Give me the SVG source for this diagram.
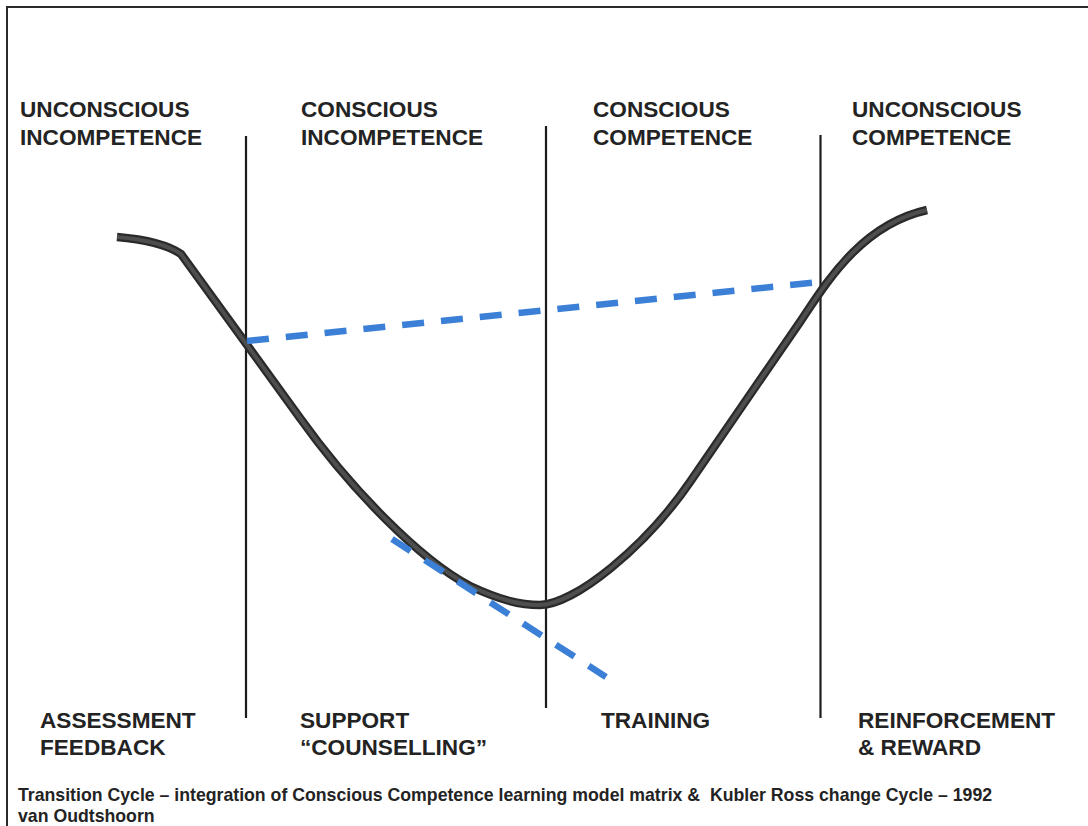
<svg xmlns="http://www.w3.org/2000/svg" xmlns:xlink="http://www.w3.org/1999/xlink" width="1088" height="826" viewBox="0 0 1088 826">
<style>
.lbl{font-family:"Liberation Sans",Arial,sans-serif;font-weight:bold;font-size:22.6px;fill:#232323}
.cap{font-family:"Liberation Sans",Arial,sans-serif;font-weight:bold;font-size:17.7px;fill:#232323}
.divider{stroke:#1c1c1c;stroke-width:2.2;fill:none}
.dash{stroke:#3b80d6;stroke-width:6.5;stroke-dasharray:22 17;fill:none}
.curveOut{stroke:#2a2a2a;stroke-width:8.5;fill:none;stroke-linejoin:round}
.curveIn{stroke:#4e4e4e;stroke-width:4;fill:none;stroke-linejoin:round}
</style>
<defs>
<path id="curve" d="M117,237 C140,239 165,243 181,254 L300,418 C350,488 420,560 470,586 C500,600 520,605 540,605 C575,604 645,547.5 690,482 L800,322 C825,285 860,225 927,210"/>
</defs>
<rect x="0" y="0" width="1088" height="826" fill="#ffffff"/>
<g id="frame">
<path d="M7,826 L7,7 L1088,7" stroke="#2a2a2a" stroke-width="2" fill="none"/>
</g>
<g id="connectors">
<line class="divider" x1="246" y1="136" x2="246" y2="718"/>
<line class="divider" x1="546" y1="126" x2="546" y2="708"/>
<line class="divider" x1="820.5" y1="135" x2="820.5" y2="718"/>
<use xlink:href="#curve" class="curveOut"/>
<use xlink:href="#curve" class="curveIn"/>
<line class="dash" x1="247" y1="341" x2="820" y2="282"/>
<line class="dash" x1="392" y1="539" x2="606" y2="677"/>
</g>
<g id="node-unconscious-incompetence">
<text class="lbl" x="20" y="117">UNCONSCIOUS</text>
<text class="lbl" x="20" y="145">INCOMPETENCE</text>
</g>
<g id="node-conscious-incompetence">
<text class="lbl" x="301" y="117">CONSCIOUS</text>
<text class="lbl" x="301" y="145">INCOMPETENCE</text>
</g>
<g id="node-conscious-competence">
<text class="lbl" x="593" y="117">CONSCIOUS</text>
<text class="lbl" x="593" y="145">COMPETENCE</text>
</g>
<g id="node-unconscious-competence">
<text class="lbl" x="852" y="117">UNCONSCIOUS</text>
<text class="lbl" x="852" y="145">COMPETENCE</text>
</g>
<g id="node-assessment">
<text class="lbl" x="40" y="728">ASSESSMENT</text>
<text class="lbl" x="40" y="755">FEEDBACK</text>
</g>
<g id="node-support">
<text class="lbl" x="300" y="728">SUPPORT</text>
<text class="lbl" x="300" y="755">“COUNSELLING”</text>
</g>
<g id="node-training">
<text class="lbl" x="601" y="728">TRAINING</text>
</g>
<g id="node-reinforcement">
<text class="lbl" x="858" y="728">REINFORCEMENT</text>
<text class="lbl" x="858" y="755">&amp; REWARD</text>
</g>
<g id="caption">
<text class="cap" x="18" y="801" xml:space="preserve">Transition Cycle – integration of Conscious Competence learning model matrix &amp;  Kubler Ross change Cycle – 1992</text>
<text class="cap" x="18" y="822">van Oudtshoorn</text>
</g>
</svg>
